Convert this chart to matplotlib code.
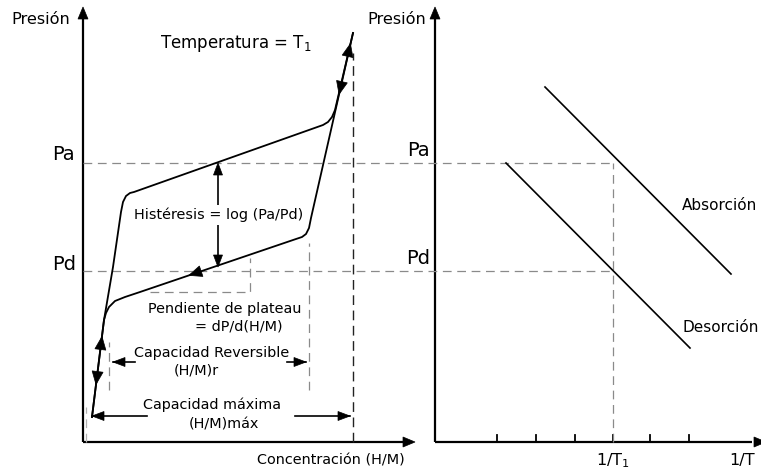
import numpy as np
import matplotlib
matplotlib.use("Agg")
import matplotlib.pyplot as plt
from matplotlib.patches import Polygon

plt.rcParams['font.family'] = ['DejaVu Sans']
plt.rcParams['mathtext.default'] = 'regular'

# pressure levels (schematic units, 0 = concentration axis)
pa = 279
pd = 171

# PCT isotherm at T1: absorption and desorption branches (concentration, pressure)
abs_conc = [92, 104, 113, 121, 123, 126, 130, 134, 323, 328, 332, 335, 353]
abs_pres = [25, 122, 175, 230, 240, 246, 249, 250, 317, 320, 325, 332, 409]
des_conc = [353, 311, 309, 306, 302, 296, 140, 125, 115, 109, 106, 104, 92]
des_pres = [409, 224, 214, 208, 205, 203, 150, 145, 141, 135, 129, 122, 25]

# characteristic concentrations
hm_min = 86
hm_rev = [109, 309]
hm_max = 353

# van 't Hoff plot (1/T, pressure)
inv_t_ticks = [497, 536, 575, 613, 650, 689]
inv_t1 = 613
vh_abs_x = [545, 731]
vh_abs_y = [355, 168]
vh_des_x = [506, 690]
vh_des_y = [279, 94]

fig = plt.figure(figsize=(7.61, 4.76), dpi=100)
ax = fig.add_axes([0, 0, 1, 1])
ax.set_xlim(0, 761)
ax.set_ylim(-34, 442)
ax.axis('off')

K = 'black'
GRAY = '#8a8a8a'
DASH = (7, 4.5)


def head(x, y, dx, dy, length=12, width=9, centred=False):
    d = np.array([dx, dy], float)
    d /= np.hypot(*d)
    n = np.array([-d[1], d[0]])
    tip = np.array([x, y], float)
    if centred:
        tip = tip + d * length / 2
    base = tip - d * length
    ax.add_patch(Polygon([tip, base + n * width / 2, base - n * width / 2],
                         closed=True, fc=K, ec=K, lw=0.5, zorder=5))


# axes of both panels
for x0, x1 in [(83, 405), (435, 752)]:
    ax.plot([x0, x0], [0, 425], color=K, lw=1.6, solid_capstyle='butt')
    ax.plot([x0, x1], [0, 0], color=K, lw=1.6, solid_capstyle='butt')
    head(x0, 435, 0, 1, 12, 10)
head(415, 0, 1, 0, 12, 10)
head(766, 0, 1, 0, 12, 10)
for t in inv_t_ticks:
    ax.plot([t, t], [0, 7], color=K, lw=1.3)

# dashed guides
ax.plot([83, inv_t1], [pa, pa], color=GRAY, lw=0.9, dashes=DASH)
ax.plot([83, inv_t1], [pd, pd], color=GRAY, lw=0.9, dashes=DASH)
ax.plot([inv_t1, inv_t1], [0, pa], color=GRAY, lw=0.9, dashes=DASH)
ax.plot([hm_max, hm_max], [0, 389], color='#222222', lw=1.0, dashes=(7, 4))
ax.plot([hm_min, hm_min], [0, 35], color='#b0b0b0', lw=0.9, dashes=DASH)
ax.plot([hm_rev[0], hm_rev[0]], [52, 100], color=GRAY, lw=0.9, dashes=DASH)
ax.plot([hm_rev[1], hm_rev[1]], [52, 199], color=GRAY, lw=0.9, dashes=DASH)
ax.plot([150, 250, 250], [150, 150, 184], color=GRAY, lw=0.9, dashes=DASH)

# isotherm branches
ax.plot(abs_conc, abs_pres, color=K, lw=1.3, solid_joinstyle='round')
ax.plot(des_conc, des_pres, color=K, lw=1.3, solid_joinstyle='round')
head(349, 392, 42, 185, 13, 11, centred=True)
head(340.5, 354, -42, -185, 13, 11, centred=True)
head(195, 168.7, -171, -58, 13, 11, centred=True)
head(101.2, 99, 12, 97, 13, 11, centred=True)
head(96.8, 64, -12, -97, 13, 11, centred=True)

# hysteresis double arrow
ax.plot([218, 218], [184, 268], color=K, lw=1.2)
head(218, pa, 0, 1, 12, 9)
head(218, 175, 0, -1, 12, 9)

# capacity arrows
cap_y = 80
ax.plot([113, 135], [cap_y, cap_y], color=K, lw=1.2)
head(113, cap_y, -1, 0, 12, 9)
ax.plot([287, 306], [cap_y, cap_y], color=K, lw=1.2)
head(306, cap_y, 1, 0, 12, 9)
max_y = 26
ax.plot([92, 147], [max_y, max_y], color=K, lw=1.2)
head(92, max_y, -1, 0, 12, 9)
ax.plot([295, 350], [max_y, max_y], color=K, lw=1.2)
head(350, max_y, 1, 0, 12, 9)

# van 't Hoff lines
ax.plot(vh_abs_x, vh_abs_y, color=K, lw=1.2)
ax.plot(vh_des_x, vh_des_y, color=K, lw=1.2)

# texts
fs = 10.4
big = 11.6
ax.text(41, 422, 'Presión', fontsize=big, ha='center', va='center')
ax.text(397, 422, 'Presión', fontsize=big, ha='center', va='center')
ax.text(236, 399, 'Temperatura = T$_1$', fontsize=12, ha='center', va='center')
ax.text(219, 227, 'Histéresis = log (Pa/Pd)', fontsize=fs, ha='center', va='center',
        bbox=dict(fc='white', ec='none', pad=2))
ax.text(225, 133, 'Pendiente de plateau', fontsize=fs, ha='center', va='center')
ax.text(239, 115, '= dP/d(H/M)', fontsize=fs, ha='center', va='center')
ax.text(212, 89, 'Capacidad Reversible', fontsize=fs, ha='center', va='center')
ax.text(196, 72, '(H/M)r', fontsize=fs, ha='center', va='center')
ax.text(212, 37, 'Capacidad máxima', fontsize=fs, ha='center', va='center')
ax.text(224, 18, '(H/M)máx', fontsize=fs, ha='center', va='center')
ax.text(331, -18, 'Concentración (H/M)', fontsize=fs, ha='center', va='center')
ax.text(63, 287, 'Pa', fontsize=14, ha='center', va='center')
ax.text(64, 177, 'Pd', fontsize=14, ha='center', va='center')
ax.text(418, 292, 'Pa', fontsize=14, ha='center', va='center')
ax.text(418, 184, 'Pd', fontsize=14, ha='center', va='center')
ax.text(682, 237, 'Absorción', fontsize=11, ha='left', va='center')
ax.text(682, 114, 'Desorción', fontsize=11, ha='left', va='center')
ax.text(inv_t1, -19, '1/T$_1$', fontsize=big, ha='center', va='center')
ax.text(742, -19, '1/T', fontsize=big, ha='center', va='center')

fig.savefig('out.png', dpi=100)
